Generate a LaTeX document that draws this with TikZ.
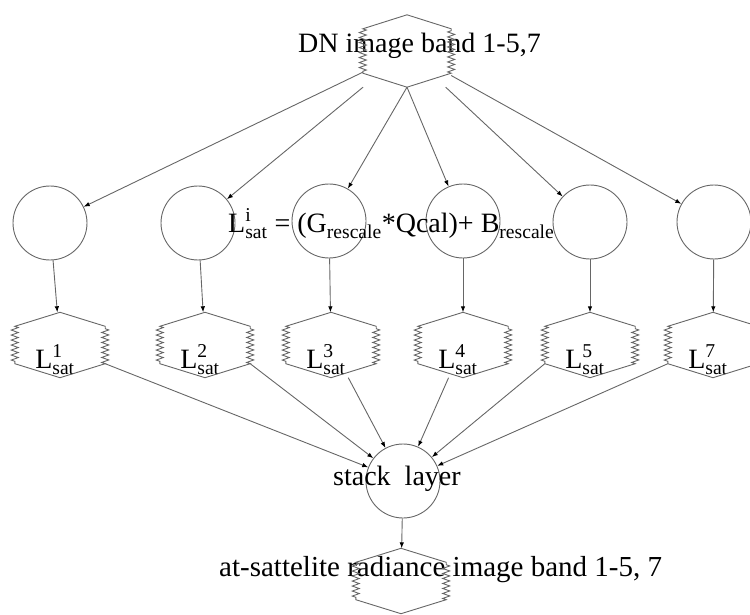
\documentclass[tikz,border=0pt]{standalone}
\usepackage{fontspec}
\usepackage{amsmath}
\setmainfont{Liberation Serif}
\usetikzlibrary{arrows.meta,decorations.pathmorphing}

\newcommand{\bigfont}{\fontsize{28}{32}\selectfont}
\newcommand{\outfont}{\fontsize{29}{33}\selectfont}

\tikzset{
  every node/.style={inner sep=0pt},
  arr/.style={draw=black!60, line width=0.9pt, -{Latex[length=6pt,width=4.5pt,black]}},
  proc/.style={circle, draw=black!60, line width=0.9pt, minimum size=74pt},
  raster/.style={minimum width=90pt, minimum height=65pt},
  rasterline/.style={draw=black!60, line width=0.9pt,
    decoration={zigzag, segment length=5pt, amplitude=3.5pt}},
}

% hexagon with saw-tooth sides around a raster node
\newcommand{\rasteroutline}[1]{%
  \draw[rasterline] (#1.north) -- ([yshift=-14pt]#1.north west)
    decorate {-- ([yshift=14pt]#1.south west)}
    -- (#1.south) -- ([yshift=14pt]#1.south east)
    decorate {-- ([yshift=-14pt]#1.north east)} -- cycle;}

\begin{document}
\begin{tikzpicture}[x=1pt,y=-1pt]
  \useasboundingbox (0,0) rectangle (750,615);

  % input raster
  \node[raster, minimum width=88pt, minimum height=72pt] (dn) at (407,51) {};
  \node[anchor=base west, font=\bigfont] (dntext) at (298,53) {DN image band 1-5,7};

  % one function per band
  \node[proc] (c1) at (50,223) {};
  \node[proc] (c2) at (198,223) {};
  \node[proc] (c3) at (329,221) {};
  \node[proc] (c4) at (463,221) {};
  \node[proc] (c5) at (590,222) {};
  \node[proc] (c7) at (714,222) {};
  \node[anchor=base west, font=\bigfont] (eq) at (228,232)
    {$\text{L}^{\text{i}}_{\text{sat}}\text{ = (G}_{\text{rescale}}\text{*Qcal)+ B}_{\text{rescale}}$};

  % radiance bands
  \node[raster] (l1) at (60,345) {};
  \node[raster] (l2) at (205,345) {};
  \node[raster] (l3) at (331,345) {};
  \node[raster] (l4) at (463,345) {};
  \node[raster] (l5) at (590,345) {};
  \node[raster] (l7) at (713,345) {};
  \foreach \b in {1,2,3,4,5,7}
    \node[anchor=base, font=\bigfont] (t\b) at ([xshift=-5pt,yshift=-23pt]l\b.center)
      {$\text{L}^{\text{\b}}_{\text{sat}}$};

  % stack and output
  \node[proc] (st) at (403,481) {};
  \node[anchor=base west, font=\bigfont] (sttext) at (333,485) {stack\enspace layer};
  \node[raster] (out) at (401,581) {};
  \node[anchor=base west, font=\outfont] (outtext) at (219,576)
    {at-sattelite radiance image band 1-5, 7};

  \foreach \n in {dn,l1,l2,l3,l4,l5,l7,out}
    \rasteroutline{\n};

  \foreach \b in {1,2,5,7}
    \draw[arr] (dn) -- (c\b);
  \foreach \b in {3,4}
    \draw[arr] (dn.south) -- (c\b);
  \foreach \b in {1,2,3,4,5,7}
    \draw[arr] (c\b) -- (l\b);
  \foreach \b in {1,2}
    \draw[arr] ([yshift=14pt]l\b.south east) -- (st);
  \foreach \b in {3,4}
    \draw[arr] (l\b) -- (st);
  \foreach \b in {5,7}
    \draw[arr] ([yshift=14pt]l\b.south west) -- (st);
  \draw[arr] (st) -- (out);
\end{tikzpicture}
\end{document}
